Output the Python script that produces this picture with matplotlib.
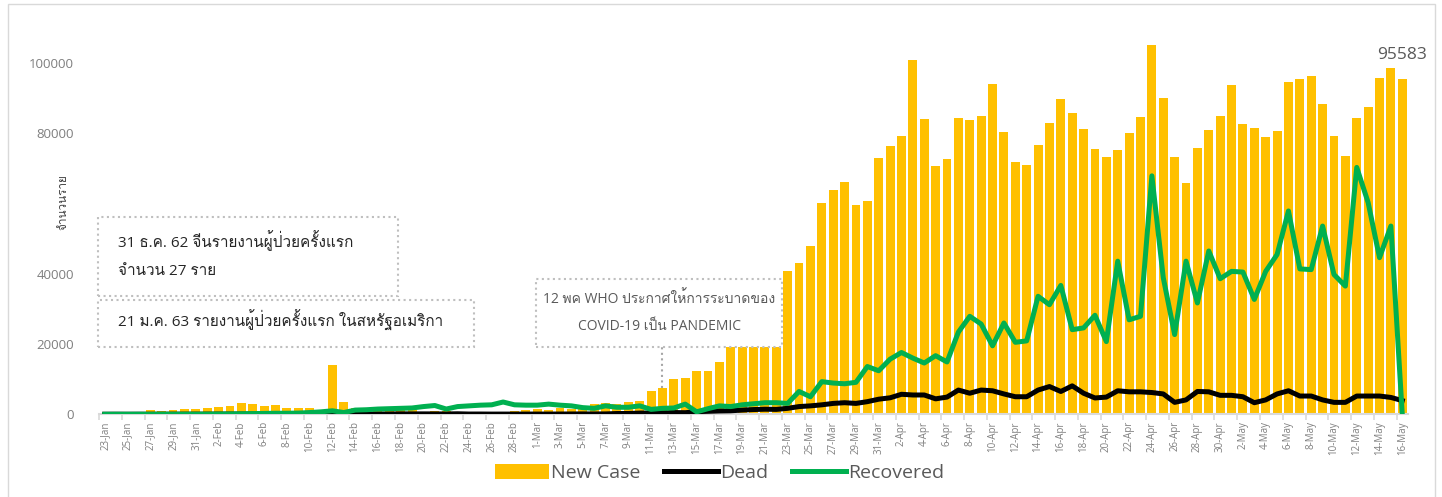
import matplotlib
matplotlib.use("Agg")
import matplotlib.pyplot as plt
from matplotlib.patches import Rectangle
from matplotlib import font_manager
from matplotlib.ft2font import FT2Font
import numpy as np
import pandas as pd

# daily data, 23-Jan .. 16-May (2020)
dates = pd.date_range("2020-01-23", "2020-05-16")
day_labels = [f"{d.day}-{d.strftime('%b')}" for d in dates]

new_case = [100, 250, 450, 550, 1200, 900, 1200, 1500, 1650,
            1800, 2100, 2500, 3200, 2900, 2400, 2700, 1900, 1800, 1800, 1200, 14100, 3400, 1900,
            1500, 1800, 1700, 1600, 1100, 500, 900, 900, 450, 550, 750, 500, 600, 800, 1200,
            1400, 1100, 1700, 1500, 2000, 2900, 3100, 3000, 3600, 3800, 6500, 7600, 10100, 10400,
            12300, 12200, 15000, 20500, 25000, 29000, 31000, 33000, 40700, 43000, 47800, 60200,
            63900, 66100, 59700, 60700, 73000,
            76300, 79200, 101000, 84100, 70700, 72600, 84400, 83900, 85000, 94100, 80300, 71900,
            71000, 76600, 82900, 89700, 85900, 81100, 75400, 73400, 75300, 80100, 84700, 105200,
            90100, 73200, 66000, 75900, 81000, 84900,
            93900, 82700, 81600, 78900, 80700, 94700, 95600, 96400, 88300, 79200, 73500, 84500,
            87500, 95700, 98700, 95583]

dead = [20, 25, 15, 25, 25, 25, 40, 40, 45,
        45, 60, 65, 65, 70, 75, 85, 90, 95, 110, 95, 120, 100, 140, 105, 100, 100, 130,
        115, 120, 110, 100, 150, 75, 80, 60, 65, 60, 70,
        70, 70, 80, 95, 110, 100, 110, 220, 230, 350, 370, 400, 500, 450, 750, 850, 950, 1000,
        1200, 1350, 1450, 1400, 1700, 2200, 2400, 2700, 3100, 3300, 3100, 3600, 4300,
        4700, 5700, 5500, 5500, 4400, 4900, 6900, 6000, 6900, 6700, 5800, 5000, 5000, 6900,
        7900, 6500, 8100, 6000, 4650, 4900, 6700, 6400, 6400, 6200, 5800, 3400, 4100, 6500,
        6400, 5400,
        5400, 5000, 3300, 4100, 5800, 6700, 5200, 5200, 4100, 3400, 3400, 5200, 5200, 5200,
        4800, 3900]

recovered = [0, 10, 10, 15, 10, 40, 20, 40, 30,
             50, 80, 100, 150, 200, 250, 300, 300, 350, 500, 700, 1000, 500, 1200, 1300, 1500,
             1600, 1700, 1800, 2200, 2500, 1500, 2200, 2400, 2600, 2700, 3500, 2700, 2600,
             2600, 2900, 2600, 2400, 1900, 1700, 2400, 2000, 2000, 2400, 1400, 1700, 1800, 2900,
             700, 1600, 2400, 2200, 2700, 3000, 3300, 3300, 3100, 6500, 5000, 9300, 8900, 8700,
             9100, 13600, 12400,
             15700, 17600, 16000, 14600, 16700, 14900, 23400, 27900, 25700, 19500, 26000, 20500,
             20900, 33600, 31200, 36700, 24100, 24600, 28200, 20700, 43600, 26900, 27900, 67900,
             38900, 22700, 43600, 31700, 46500, 38600,
             40700, 40500, 32700, 40700, 45500, 57900, 41400, 41200, 53600, 39800, 36500, 70300,
             60300, 44600, 53600, 0]

y_ticks = [0, 20000, 40000, 60000, 80000, 100000]
y_tick_labels = ["0", "20000", "40000", "", "80000", "100000"]

note_china = ["31 ธ.ค. 62 จีนรายงานผู้ป่วยครั้งแรก", "จำนวน 27 ราย"]
note_usa = "21 ม.ค. 63 รายงานผู้ป่วยครั้งแรก ในสหรัฐอเมริกา"
note_who = ["12 พค WHO ประกาศให้การระบาดของ", "COVID-19 เป็น PANDEMIC"]
who_day = 49  # 12-Mar

# find a font with Thai glyphs
thai_font = None
for f in font_manager.fontManager.ttflist:
    try:
        if 0x0E08 in FT2Font(f.fname).get_charmap():
            thai_font = f.name
            if "Sans" in f.name or f.name in ("Loma", "Garuda", "Waree"):
                break
    except Exception:
        pass
fams = ["Open Sans", "DejaVu Sans"]
if thai_font:
    fams = ["Open Sans", thai_font, "DejaVu Sans"]
plt.rcParams["font.family"] = fams

gray = "#7f7f7f"
x = np.arange(len(dates))

fig = plt.figure(figsize=(14.42, 4.97), dpi=100)
ax = fig.add_axes([0.0687, 0.1664, 0.9077, 0.7773])

bars = ax.bar(x, new_case, width=0.78, color="#FFC000", label="New Case", zorder=2)
l_dead, = ax.plot(x, dead, color="black", lw=3.6, label="Dead", zorder=3, solid_joinstyle="round")
l_rec, = ax.plot(x, recovered, color="#00B050", lw=3.6, label="Recovered", zorder=4,
                 solid_joinstyle="round")

ax.text(x[-1], new_case[-1] + 4500, f"{new_case[-1]}", ha="center", va="bottom",
        fontsize=12.5, color="#595959")

ax.set_xlim(-0.5, len(x) - 0.5)
ax.set_ylim(0, 110000)
ax.set_xticks(x[::2])
ax.set_xticklabels(day_labels[::2], rotation=90, fontsize=7, color=gray)
ax.set_xticks(np.arange(-0.5, len(x), 2), minor=True)
ax.tick_params(axis="x", which="major", length=0, pad=5)
ax.tick_params(axis="x", which="minor", length=4, color="#d9d9d9", width=1.2)
ax.set_yticks(y_ticks)
ax.set_yticklabels(y_tick_labels, fontsize=9.5, color=gray)
ax.tick_params(axis="y", length=0, pad=18)
for s in ["top", "right", "left"]:
    ax.spines[s].set_visible(False)
ax.spines["bottom"].set_color("#d9d9d9")
ax.spines["bottom"].set_linewidth(1.5)
ax.set_ylabel("จำนวนราย", fontsize=8.5, color="#404040")
ax.yaxis.set_label_coords(-0.0225, 0.55)

# annotation boxes
box_kw = dict(facecolor="white", edgecolor="#bfbfbf", linestyle=":", linewidth=1.5,
              zorder=6, clip_on=False)
ax.add_patch(Rectangle((-0.6, 33700), 26.4, 22600, **box_kw))
ax.add_patch(Rectangle((-0.6, 19300), 33.0, 13300, **box_kw))
ax.add_patch(Rectangle((37.9, 19100), 21.6, 19400, **box_kw))
ax.text(1.2, 49300, note_china[0], fontsize=11, color="#262626", va="center", zorder=7)
ax.text(1.2, 40700, note_china[1], fontsize=11, color="#262626", va="center", zorder=7)
ax.text(1.2, 26700, note_usa, fontsize=11, color="#262626", va="center", zorder=7)
ax.text(48.7, 32900, note_who[0], fontsize=10, color="#595959", ha="center", va="center", zorder=7)
ax.text(48.7, 25100, note_who[1], fontsize=10, color="#595959", ha="center", va="center", zorder=7)
ax.plot([who_day, who_day], [new_case[who_day], 19100], ls=":", color="#a6a6a6", lw=1.5, zorder=6)

leg = fig.legend([bars, l_dead, l_rec], ["New Case", "Dead", "Recovered"],
                 loc="center", bbox_to_anchor=(0.499, 0.048), ncol=3, frameon=False,
                 fontsize=14, handlelength=2.8, handleheight=0.8, handletextpad=0.1,
                 columnspacing=1.2)
for t in leg.get_texts():
    t.set_color("#595959")

# chart border
fig.add_artist(Rectangle((8 / 1442, -10 / 497), 1427 / 1442, 503 / 497, transform=fig.transFigure,
                         facecolor="none", edgecolor="#d9d9d9", lw=1))

fig.savefig("out.png", dpi=100)
